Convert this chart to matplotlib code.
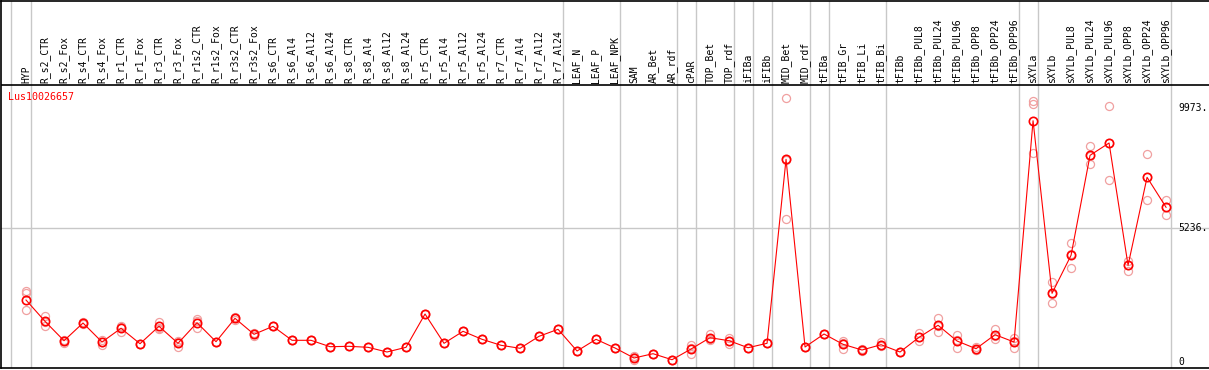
import matplotlib

matplotlib.use("Agg")
import matplotlib.pyplot as plt  # noqa: E402
import numpy as np  # noqa: E402

GENE = "Lus10026657"

samples = [
    "HYP", "R_s2_CTR", "R_s2_Fox", "R_s4_CTR", "R_s4_Fox", "R_r1_CTR", "R_r1_Fox",
    "R_r3_CTR", "R_r3_Fox", "R_r1s2_CTR", "R_r1s2_Fox", "R_r3s2_CTR", "R_r3s2_Fox",
    "R_s6_CTR", "R_s6_Al4", "R_s6_Al12", "R_s6_Al24", "R_s8_CTR", "R_s8_Al4",
    "R_s8_Al12", "R_s8_Al24", "R_r5_CTR", "R_r5_Al4", "R_r5_Al12", "R_r5_Al24",
    "R_r7_CTR", "R_r7_Al4", "R_r7_Al12", "R_r7_Al24", "LEAF_N", "LEAF_P", "LEAF_NPK",
    "SAM", "AR_Bet", "AR_rdf", "cPAR", "TOP_Bet", "TOP_rdf", "iFIBa", "iFIBb",
    "MID_Bet", "MID_rdf", "tFIBa", "tFIB_Gr", "tFIB_Li", "tFIB_Bi", "tFIBb",
    "tFIBb_PUL8", "tFIBb_PUL24", "tFIBb_PUL96", "tFIBb_OPP8", "tFIBb_OPP24",
    "tFIBb_OPP96", "sXYLa", "sXYLb", "sXYLb_PUL8", "sXYLb_PUL24", "sXYLb_PUL96",
    "sXYLb_OPP8", "sXYLb_OPP24", "sXYLb_OPP96",
]

# mean expression per sample
means = [
    2421, 1585, 824, 1519, 773, 1311, 706, 1389, 722, 1531, 785, 1703, 1075,
    1389, 840, 840, 589, 604, 565, 381, 565, 1872, 722, 1193, 879, 644, 526,
    997, 1272, 420, 879, 538, 145, 314, 78, 498, 942, 824, 549, 722, 7943,
    577, 1087, 683, 459, 667, 381, 958, 1429, 812, 510, 1060, 773, 9458,
    2684, 4176, 8100, 8583, 3783, 7237, 6060,
]

# replicate values (three per sample)
rep_a = [
    2763, 1805, 860, 1570, 852, 1374, 700, 1558, 812, 1676, 790, 1766, 1009,
    1389, 840, 840, 589, 604, 565, 381, 565, 1872, 722, 1193, 879, 644, 526,
    997, 1272, 420, 879, 538, 55, 314, 78, 667, 1087, 918, 549, 722, 10338,
    577, 1087, 812, 510, 760, 381, 1114, 1715, 1048, 590, 1283, 942, 10243,
    3116, 4647, 8466, 10024, 3964, 8140, 6346,
]
rep_b = [
    2708, 1389, 750, 1480, 667, 1166, 712, 1283, 589, 1334, 780, 1637, 1140,
    1389, 840, 840, 589, 604, 565, 381, 565, 1872, 722, 1193, 879, 644, 526,
    997, 1272, 420, 879, 538, 170, 314, 78, 290, 850, 695, 549, 722, 5589,
    577, 1087, 487, 420, 600, 381, 812, 1166, 549, 470, 891, 549, 10114,
    2292, 3666, 7747, 7131, 3571, 6334, 5769,
]
rep_c = [
    2017, 1560, 824, 1510, 790, 1390, 706, 1330, 765, 1580, 785, 1705, 1075,
    1389, 840, 840, 589, 604, 565, 381, 565, 1872, 722, 1193, 879, 644, 526,
    997, 1272, 420, 879, 538, 210, 314, 78, 537, 890, 820, 549, 722, 7902,
    577, 1087, 750, 450, 640, 381, 950, 1405, 840, 470, 1005, 830, 8179,
    2650, 4210, 8090, 8590, 3810, 7237, 6060,
]

# sample index after which a group separator is drawn
group_ends = [0, 28, 31, 34, 35, 37, 38, 39, 41, 42, 45, 52, 53, 60]

y_ticks = [9973, 5236, 0]
y_tick_labels = ["9973.", "5236.", "0"]

GRID = "#c8c8c8"
LINE_RED = "#ff0000"
REP_PINK = "#f0a0a0"
MONO = "DejaVu Sans Mono"

fig = plt.figure(figsize=(12.09, 3.70), dpi=100)
ax = fig.add_axes([1 / 1209, 2 / 370, 1208 / 1209, 367 / 370])

x = np.arange(len(samples))
# header band sits above the plot area; top of plot area is at 10860
y_header = 10860
ax.set_xlim(-1.316, 62.26)
ax.set_ylim(-247, 14156)

ax.spines["right"].set_visible(False)
for s in ("left", "top", "bottom"):
    ax.spines[s].set_linewidth(1.2)
ax.set_xticks([])
ax.set_yticks([])

# separators
ax.axvline(-0.8, color=GRID, lw=1.0, zorder=0)
for g in group_ends:
    ax.axvline(g + 0.25, color=GRID, lw=1.0, zorder=0)
ax.axhline(5236, color=GRID, lw=1.0, zorder=0)
ax.axhline(y_header, color="black", lw=1.2, zorder=3)

# sample labels in the header
for xi, name in zip(x, samples):
    ax.text(xi, y_header + 90, name, rotation=90, ha="center", va="bottom",
            fontsize=7, family=MONO, color="black")

# replicates, then mean line with markers
for reps in (rep_a, rep_b, rep_c):
    ax.plot(x, reps, linestyle="none", marker="o", ms=5.8, mfc="none",
            mec=REP_PINK, mew=0.9, zorder=2)
ax.plot(x, means, color=LINE_RED, lw=0.8, marker="o", ms=6.0, mfc="none",
        mec=LINE_RED, mew=1.2, zorder=4)

# value labels on the right
for v, lab in zip(y_ticks, y_tick_labels):
    ax.text(60.63, v, lab, ha="left", va="center", fontsize=7, family=MONO)

ax.text(-0.95, 10380, GENE, ha="left", va="center", fontsize=7.2,
        family=MONO, color=LINE_RED)

fig.savefig("out.png", dpi=100)
plt.close(fig)
